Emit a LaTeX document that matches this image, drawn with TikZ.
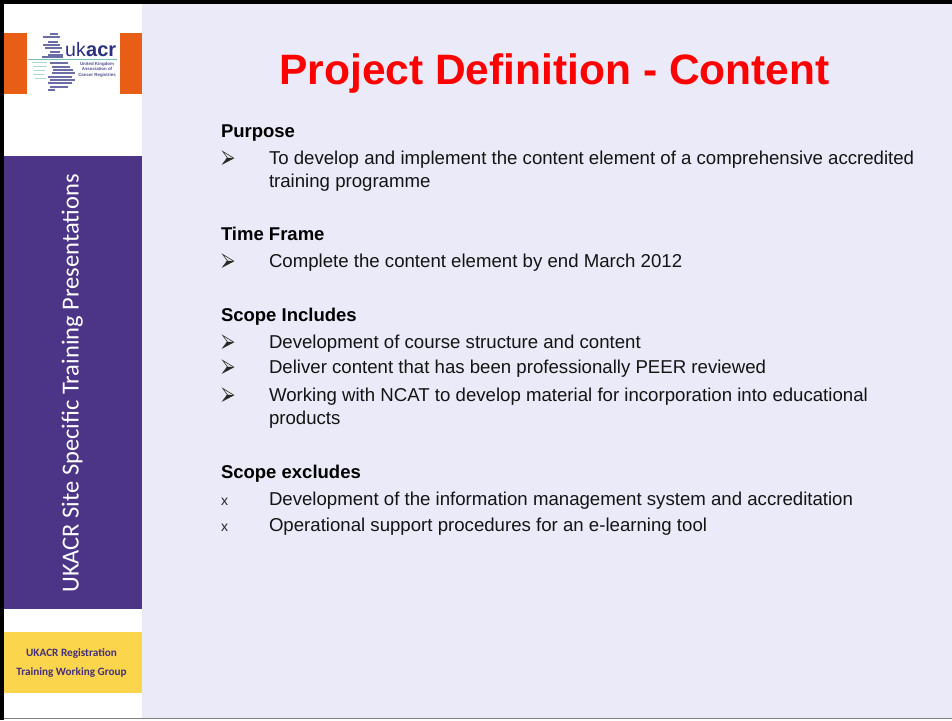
\documentclass[tikz,border=0pt]{standalone}
\usepackage{fontspec}
\setmainfont{Liberation Sans}
\newfontfamily\sidefont{Carlito}
\definecolor{pagebg}{HTML}{EAEAF8}
\definecolor{purpleband}{HTML}{4C3586}
\definecolor{yellowband}{HTML}{FBD54B}
\definecolor{orangeblock}{HTML}{E95E17}
\definecolor{logonavy}{HTML}{2B2F7F}
\definecolor{logoteal}{HTML}{6FBFB4}
\definecolor{titlered}{HTML}{FF0000}
\tikzset{
  txt/.style={anchor=base west,inner sep=0pt,outer sep=0pt,font=\fontsize{18.63}{18.63}\selectfont,text=black!92},
  head/.style={anchor=base west,inner sep=0pt,outer sep=0pt,font=\fontsize{18.5}{18.5}\selectfont\bfseries,text=black},
  crossb/.style={anchor=base west,inner sep=0pt,outer sep=0pt,font=\fontsize{14}{14}\selectfont,text=black!85},
  mapbar/.style={draw=logonavy!70,line width=1.2pt},
  mapfaint/.style={draw=logoteal!60,line width=0.8pt},
  logosmall/.style={anchor=base,inner sep=0pt,font=\fontsize{4.4}{4.4}\selectfont\bfseries,text=logonavy!85},
  bandtxt/.style={inner sep=0pt,font=\fontsize{11.2}{11.2}\selectfont\sidefont\bfseries,text=purpleband!90!black},
  bulletarrow/.pic={
    \fill[black!10] (1.7,-13.3) -- (12.8,-6.6) -- (6.3,-7) -- cycle;
    \fill[black!85] (12.8,-6.6) -- (1.7,-0.7) -- (6.3,-7) -- cycle;
    \draw[black!80,line width=0.6pt,line join=miter] (1.7,-13.3) -- (12.8,-6.6) -- (1.7,-0.7) -- (6.3,-7) -- cycle;
  }
}
\begin{document}
\begin{tikzpicture}[x=1pt,y=-1pt]
\useasboundingbox (0,0) rectangle (952,720);
\fill[white] (0,0) rectangle (952,720);
\fill[pagebg] (142,4) rectangle (952,718);
\fill[black] (0,0) rectangle (952,4);
\fill[black] (0,0) rectangle (4,720);
\fill[black!50] (4,717.5) rectangle (952,719);
% side bands
\fill[orangeblock] (4,33) rectangle (27,94);
\fill[orangeblock] (120,33) rectangle (142,94);
\fill[purpleband] (4,156) rectangle (142,609);
\fill[yellowband] (4,632) rectangle (142,693);
% logo map
\foreach \xa/\xb/\yy in {50/58/34,43/60/37,48/58/42,43/60/45,45/62/48,50/60/52,48/63/55,42/63/57,50/68/63,52/70/67,53/73/70,52/75/73,48/72/77,50/75/80,48/72/83,50/68/87,48/55/90}
  \draw[mapbar] (\xa,\yy) -- (\xb,\yy);
\foreach \xa/\xb/\yy in {32/47/62,33/47/66,34/45/70,33/44/74,35/46/78}
  \draw[mapfaint] (\xa,\yy) -- (\xb,\yy);
\draw[logoteal,line width=1pt] (28,59.5) -- (117,59.5);
\node[anchor=base west,inner sep=0pt,font=\fontsize{19.5}{19.5}\selectfont,text=logonavy] (logouk) at (65,56.5) {uk};
\node[anchor=base west,inner sep=0pt,font=\fontsize{20}{20}\selectfont\bfseries,text=logonavy] (logoacr) at (86,56.5) {acr};
\node[logosmall] (logoa) at (97,65) {United Kingdom};
\node[logosmall] (logob) at (97,70.8) {Association of};
\node[logosmall] (logoc) at (97,76.6) {Cancer Registries};
% side texts
\node[rotate=90,anchor=base,inner sep=0pt,text=white,font=\fontsize{24.5}{24.5}\selectfont\sidefont] (sidetitle) at (78.7,383.5) {UKACR Site Specific Training Presentations};
\node[bandtxt] (banda) at (71.5,654) {UKACR Registration};
\node[bandtxt] (bandb) at (71.5,673) {Training Working Group};
% title
\node[anchor=base,inner sep=0pt,font=\fontsize{42.5}{42.5}\selectfont\bfseries,text=titlered] (title) at (554.5,84) {Project Definition - Content};
% body
\begin{scope}[yshift=-0.7pt]
\node[head] (h1) at (221,137) {Purpose};
\pic (b1) at (221,164) {bulletarrow};
\node[txt] (t1) at (269,164) {To develop and implement the content element of a comprehensive accredited};
\node[txt] (t1b) at (269,187) {training programme};
\node[head] (h2) at (221,240) {Time Frame};
\pic (b2) at (221,267) {bulletarrow};
\node[txt] (t2) at (269,267) {Complete the content element by end March 2012};
\node[head] (h3) at (221,321) {Scope Includes};
\pic (b3) at (221,348) {bulletarrow};
\node[txt] (t3) at (269,348) {Development of course structure and content};
\pic (b4) at (221,373) {bulletarrow};
\node[txt] (t4) at (269,373) {Deliver content that has been professionally PEER reviewed};
\pic (b5) at (221,401) {bulletarrow};
\node[txt] (t5) at (269,401) {Working with NCAT to develop material for incorporation into educational};
\node[txt] (t5b) at (269,424) {products};
\node[head] (h4) at (221,478) {Scope excludes};
\node[crossb] (x1) at (221,505) {x};
\node[txt] (t6) at (269,505) {Development of the information management system and accreditation};
\node[crossb] (x2) at (221,531) {x};
\node[txt] (t7) at (269,531) {Operational support procedures for an e-learning tool};
\end{scope}
\end{tikzpicture}
\end{document}
